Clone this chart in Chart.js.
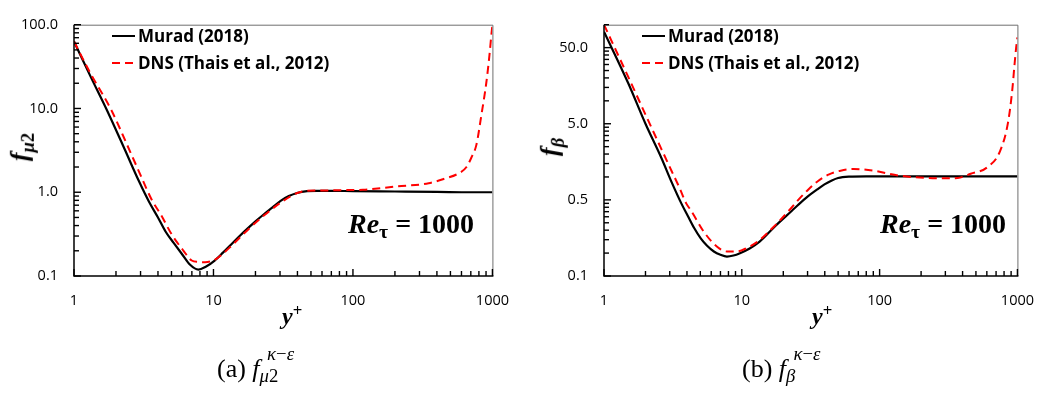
<!DOCTYPE html>
<html lang="en">
<head>
  <meta charset="UTF-8" />
  <title>f_mu2 and f_beta damping functions</title>
  <script src="https://cdn.jsdelivr.net/npm/chart.js"></script>
  <style>
    body { margin: 0; background: #fff; }
    .page { position: relative; width: 1050px; height: 403px; overflow: hidden; background: #fff; }
    canvas { position: absolute; top: 0; }
    .txt { position: absolute; white-space: nowrap; line-height: 1; color: #000; }
    .serif { font-family: "Liberation Serif", "Times New Roman", serif; }
    .legend { position: absolute; font-family: "Open Sans", sans-serif; font-weight: bold; font-size: 17px; color: #000; }
    .legend .row { height: 27px; display: flex; align-items: center; white-space: nowrap; }
    .legend .sw { display: inline-block; width: 23px; height: 2px; margin-right: 3px; }
    .legend .solid { background: #000; }
    .legend .dash { background: repeating-linear-gradient(to right, #ff0000 0 8px, transparent 8px 13px); }
    .ss { position: relative; display: inline-block; }
    .ss .sb { font-size: 0.72em; position: relative; top: 0.28em; }
    .ss .sp { font-size: 0.72em; position: absolute; left: 0.4em; top: -0.6em; }
  </style>
</head>
<body>
  <div class="page">
    <canvas id="chartA" width="525" height="403" style="left:0"></canvas>
    <canvas id="chartB" width="520" height="403" style="left:530px"></canvas>

    <!-- legends -->
    <div class="legend" style="left:112px; top:22px">
      <div class="row"><span class="sw solid"></span>Murad (2018)</div>
      <div class="row"><span class="sw dash"></span>DNS (Thais et al., 2012)</div>
    </div>
    <div class="legend" style="left:642px; top:22px">
      <div class="row"><span class="sw solid"></span>Murad (2018)</div>
      <div class="row"><span class="sw dash"></span>DNS (Thais et al., 2012)</div>
    </div>

    <!-- Re_tau annotations -->
    <div class="txt serif" style="left:348px; top:210px; font-size:28px; font-weight:bold"><i>Re</i><sub style="font-size:0.7em; vertical-align:-0.25em">τ</sub> = 1000</div>
    <div class="txt serif" style="left:880px; top:210px; font-size:28px; font-weight:bold"><i>Re</i><sub style="font-size:0.7em; vertical-align:-0.25em">τ</sub> = 1000</div>

    <!-- axis titles -->
    <div class="txt serif" style="left:282px; top:303px; font-size:24px; font-weight:bold"><i>y</i><sup style="font-size:0.7em; vertical-align:0.45em">+</sup></div>
    <div class="txt serif" style="left:812px; top:303px; font-size:24px; font-weight:bold"><i>y</i><sup style="font-size:0.7em; vertical-align:0.45em">+</sup></div>
    <div class="txt serif" style="left:22px; top:147px; font-size:26px; font-weight:bold; transform:translate(-50%,-50%) rotate(-90deg)"><i>f</i><sub style="font-size:0.72em; vertical-align:-0.3em"><i>μ</i>2</sub></div>
    <div class="txt serif" style="left:552px; top:147px; font-size:26px; font-weight:bold; transform:translate(-50%,-50%) rotate(-90deg)"><i>f</i><sub style="font-size:0.72em; vertical-align:-0.3em"><i>β</i></sub></div>

    <!-- captions -->
    <div class="txt serif" style="left:217px; top:356px; font-size:26px">(a) <i>f</i><span class="ss"><span class="sb"><i>μ</i>2</span><span class="sp"><i>κ</i>−<i>ε</i></span></span></div>
    <div class="txt serif" style="left:742px; top:356px; font-size:26px">(b) <i>f</i><span class="ss"><span class="sb"><i>β</i></span><span class="sp"><i>κ</i>−<i>ε</i></span></span></div>
  </div>

  <script>
    // ---- data ----
    // (a) f_mu2
    const yPlusMuradA = [1, 1.3, 1.74, 2.3, 2.93, 3.45, 4.0, 4.53, 5.2, 5.94, 6.8, 7.8, 8.8, 10.2, 11.7, 13.4, 15.4, 17.6, 20.2, 23.1, 26.5, 30.3, 34.7, 39.8, 46.9, 55, 70, 100, 200, 400, 700, 1000];
    const fMuradA     = [63, 25, 9.2, 3.3, 1.34, 0.77, 0.5, 0.34, 0.247, 0.183, 0.136, 0.119, 0.129, 0.153, 0.19, 0.238, 0.30, 0.37, 0.455, 0.55, 0.66, 0.79, 0.90, 0.98, 1.03, 1.04, 1.04, 1.03, 1.02, 1.01, 1.0, 1.0];
    const yPlusDnsA = [1, 1.3, 1.85, 2.4, 3.0, 3.6, 4.22, 5.04, 6.1, 6.98, 7.8, 8.7, 10.2, 11.7, 13.4, 17.6, 23.1, 30.3, 39.8, 47, 60, 90, 118, 203, 349, 458, 569, 652, 707, 768, 832, 903, 953, 980, 1000];
    const fDnsA     = [63, 27, 9.6, 3.7, 1.6, 0.82, 0.53, 0.31, 0.2, 0.153, 0.147, 0.146, 0.156, 0.185, 0.228, 0.355, 0.53, 0.75, 0.98, 1.04, 1.05, 1.06, 1.07, 1.17, 1.28, 1.46, 1.67, 2.0, 2.6, 3.7, 8.2, 20, 44, 72, 100];

    // (b) f_beta
    const yPlusMuradB = [1, 1.5, 2.0, 2.6, 3.1, 3.64, 4.06, 4.5, 5.05, 5.6, 6.27, 7.0, 7.8, 8.7, 9.7, 11.4, 13.4, 17.6, 23.1, 26, 30.3, 35, 39.8, 45, 50, 60, 80, 150, 300, 600, 1000];
    const fMuradB     = [81, 17, 5.0, 1.8, 0.85, 0.45, 0.307, 0.215, 0.155, 0.125, 0.105, 0.095, 0.090, 0.093, 0.0998, 0.115, 0.14, 0.229, 0.36, 0.44, 0.56, 0.68, 0.80, 0.9, 0.97, 1.01, 1.02, 1.02, 1.02, 1.02, 1.02];
    const yPlusDnsB = [1, 1.5, 2.0, 2.6, 3.1, 3.55, 3.95, 4.29, 5.33, 6.62, 7.8, 9.2, 10.8, 13.4, 17.6, 23.1, 25.7, 30.3, 35.6, 43, 52.2, 64.8, 89.8, 139, 226, 300, 369, 458, 601, 747, 855, 918, 953, 979, 1000];
    const fDnsB     = [100, 20.6, 6.6, 2.36, 1.19, 0.705, 0.45, 0.36, 0.188, 0.121, 0.105, 0.105, 0.116, 0.147, 0.235, 0.40, 0.5, 0.68, 0.88, 1.08, 1.21, 1.27, 1.21, 1.04, 0.97, 0.96, 0.97, 1.1, 1.33, 2.17, 5.2, 14, 30, 50, 68];

    // ---- axes ----
    const xMajor = [1, 10, 100, 1000];
    const xTickLabels = ['1', '10', '100', '1000'];
    const xMinor = [2, 3, 4, 5, 6, 7, 8, 9, 20, 30, 40, 50, 60, 70, 80, 90, 200, 300, 400, 500, 600, 700, 800, 900];

    const yMajorA = [0.1, 1, 10, 100];
    const yTickLabelsA = ['0.1', '1.0', '10.0', '100.0'];
    const yMinorA = [0.2, 0.3, 0.4, 0.5, 0.6, 0.7, 0.8, 0.9, 2, 3, 4, 5, 6, 7, 8, 9, 20, 30, 40, 50, 60, 70, 80, 90];

    const yMajorB = [0.05, 0.5, 5, 50];
    const yTickLabelsB = ['0.1', '0.5', '5.0', '50.0'];
    const yMinorB = [0.1, 0.15, 0.2, 0.25, 0.3, 0.35, 0.4, 0.45, 1, 1.5, 2, 2.5, 3, 3.5, 4, 4.5, 10, 15, 20, 25, 30, 35, 40, 45, 100];

    function pairs(xs, ys) {
      return xs.map((x, i) => ({ x: x, y: ys[i] }));
    }

    // plot frame + inside tick marks like the Excel original
    function frameTicks(yMajor, yMinor) {
      return {
        id: 'frameTicks',
        afterDraw(chart) {
          const { ctx, chartArea: a } = chart;
          const sx = chart.scales.x, sy = chart.scales.y;
          ctx.save();
          ctx.setLineDash([]);
          ctx.lineWidth = 1;
          ctx.strokeStyle = '#6e6e6e';
          ctx.beginPath();
          ctx.moveTo(a.left, a.top + 0.5);
          ctx.lineTo(a.right + 0.5, a.top + 0.5);
          ctx.lineTo(a.right + 0.5, a.bottom);
          ctx.stroke();

          ctx.strokeStyle = '#000';
          ctx.lineWidth = 1.4;
          xMajor.concat(xMinor).forEach((v, i) => {
            const len = i < xMajor.length ? 7 : 5;
            const px = sx.getPixelForValue(v);
            ctx.beginPath();
            ctx.moveTo(px, a.bottom);
            ctx.lineTo(px, a.bottom - len);
            ctx.stroke();
          });
          yMajor.concat(yMinor).forEach((v, i) => {
            const len = i < yMajor.length ? 7 : 5;
            const py = sy.getPixelForValue(v);
            ctx.beginPath();
            ctx.moveTo(a.left, py);
            ctx.lineTo(a.left + len, py);
            ctx.stroke();
          });

          ctx.lineWidth = 1.5;
          ctx.beginPath();
          ctx.moveTo(a.left, a.top);
          ctx.lineTo(a.left, a.bottom);
          ctx.lineTo(a.right + 1, a.bottom);
          ctx.stroke();
          ctx.restore();
        }
      };
    }

    function makeChart(id, murad, dns, yMin, yMajor, yLabels, yMinor, padRight) {
      const tickFont = { family: '"Open Sans", sans-serif', size: 14.5 };
      return new Chart(document.getElementById(id), {
        type: 'line',
        data: {
          datasets: [
            {
              label: 'DNS (Thais et al., 2012)',
              data: dns,
              borderColor: '#ff0000',
              borderWidth: 2,
              borderDash: [8, 5],
              order: 0
            },
            {
              label: 'Murad (2018)',
              data: murad,
              borderColor: '#000000',
              borderWidth: 2.2,
              order: 1
            }
          ]
        },
        options: {
          responsive: false,
          animation: false,
          devicePixelRatio: 1,
          layout: { padding: { top: 16, right: padRight, bottom: 87, left: 0 } },
          elements: {
            point: { radius: 0 },
            line: { cubicInterpolationMode: 'monotone', fill: false }
          },
          plugins: {
            legend: { display: false },
            tooltip: { enabled: false }
          },
          scales: {
            x: {
              type: 'logarithmic',
              min: 1,
              max: 1000,
              grid: { display: false, drawTicks: false },
              border: { display: false },
              afterBuildTicks: s => { s.ticks = xMajor.map(v => ({ value: v })); },
              afterFit: s => { s.height = 40; },
              ticks: {
                autoSkip: false,
                maxRotation: 0,
                padding: 16,
                color: '#000',
                font: tickFont,
                callback: (v, i) => xTickLabels[i]
              }
            },
            y: {
              type: 'logarithmic',
              min: yMin,
              max: 100,
              grid: { display: false, drawTicks: false },
              border: { display: false },
              afterBuildTicks: s => { s.ticks = yMajor.map(v => ({ value: v })); },
              afterFit: s => { s.width = 74; },
              ticks: {
                autoSkip: false,
                padding: 16,
                color: '#000',
                font: tickFont,
                callback: (v, i) => yLabels[i]
              }
            }
          }
        },
        plugins: [frameTicks(yMajor, yMinor)]
      });
    }

    makeChart('chartA', pairs(yPlusMuradA, fMuradA), pairs(yPlusDnsA, fDnsA), 0.1, yMajorA, yTickLabelsA, yMinorA, 27);
    makeChart('chartB', pairs(yPlusMuradB, fMuradB), pairs(yPlusDnsB, fDnsB), 0.05, yMajorB, yTickLabelsB, yMinorB, 22);
  </script>
</body>
</html>
